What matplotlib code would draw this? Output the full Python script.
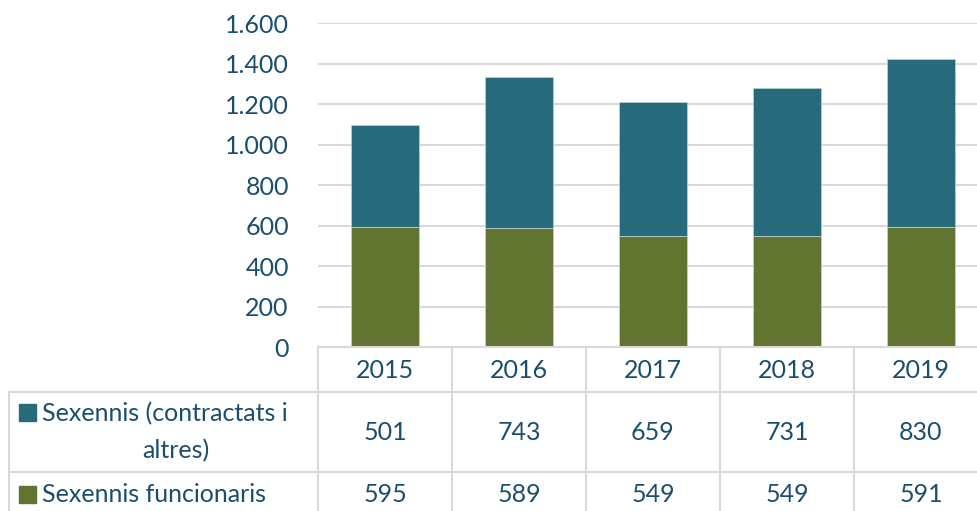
import matplotlib.pyplot as plt
from matplotlib.lines import Line2D
from matplotlib.patches import Rectangle

# dades
anys = ['2015', '2016', '2017', '2018', '2019']
contractats = [501, 743, 659, 731, 830]
funcionaris = [595, 589, 549, 549, 591]
series_noms = ['Sexennis (contractats i\naltres)', 'Sexennis funcionaris']
yticks = [0, 200, 400, 600, 800, 1000, 1200, 1400, 1600]

c_teal = '#276A7B'
c_verd = '#617430'
c_text = '#1A4E6E'
c_grid = '#D9D9D9'
fs = 18

plt.rcParams['font.family'] = ['Lato', 'DejaVu Sans']

W, H = 977, 511
fig = plt.figure(figsize=(W / 100, H / 100), dpi=100)

# zona del gràfic (en píxels: x 318..988, y 23..347)
x0, x1, ytop, ybot = 318, 988, 23, 347
ax = fig.add_axes([x0 / W, (H - ybot) / H, (x1 - x0) / W, (ybot - ytop) / H])
pos = range(len(anys))
ax.bar(pos, funcionaris, width=0.51, color=c_verd, edgecolor='#C9CFB8', linewidth=0.6, zorder=3)
ax.bar(pos, contractats, width=0.51, bottom=funcionaris, color=c_teal, edgecolor='#B8CDD3',
       linewidth=0.6, zorder=3)
ax.set_xlim(-0.5, len(anys) - 0.5)
ax.set_ylim(0, 1600)
ax.set_yticks(yticks)
ax.set_yticklabels([f'{v:,}'.replace(',', '.') for v in yticks])
ax.tick_params(axis='y', length=0, pad=21, labelsize=fs, labelcolor=c_text)
ax.set_xticks([])
ax.grid(axis='y', color=c_grid, linewidth=1.5, zorder=0)
for s in ['top', 'right', 'left', 'bottom']:
    ax.spines[s].set_visible(False)

# taula de dades (coordenades en píxels)
tb = fig.add_axes([0, 0, x1 / W, (H - ybot) / H])
tb.set_xlim(0, x1)
tb.set_ylim(H, ybot)
tb.axis('off')
col_w = (x1 - x0) / len(anys)
xs = [x0 + i * col_w for i in range(len(anys) + 1)]
r1, r2 = 392, 472
lk = dict(color=c_grid, linewidth=1.5, clip_on=False)
tb.add_line(Line2D([x0, x1], [ybot, ybot], **lk))
tb.add_line(Line2D([9, x1], [r1, r1], **lk))
tb.add_line(Line2D([9, x1], [r2, r2], **lk))
tb.add_line(Line2D([9, 9], [r1, H], **lk))
for x in xs:
    tb.add_line(Line2D([x, x], [ybot, H], **lk))

for i, a in enumerate(anys):
    cx = x0 + (i + 0.5) * col_w
    tb.text(cx, 370, a, ha='center', va='center', fontsize=fs, color=c_text)
    tb.text(cx, 433, str(contractats[i]), ha='center', va='center', fontsize=fs, color=c_text)
    tb.text(cx, 495, str(funcionaris[i]), ha='center', va='center', fontsize=fs, color=c_text)

# etiquetes de fila amb el quadrat de llegenda
linia1, linia2 = series_noms[0].split('\n')
tb.add_patch(Rectangle((19, 404), 17, 17, color=c_teal))
tb.text(42, 414, linia1, ha='left', va='center', fontsize=fs, color=c_text)
tb.text(176, 451, linia2, ha='center', va='center', fontsize=fs, color=c_text)
tb.add_patch(Rectangle((19, 486), 17, 17, color=c_verd))
tb.text(42, 495, series_noms[1], ha='left', va='center', fontsize=fs, color=c_text)

fig.savefig('out.png', dpi=100)
